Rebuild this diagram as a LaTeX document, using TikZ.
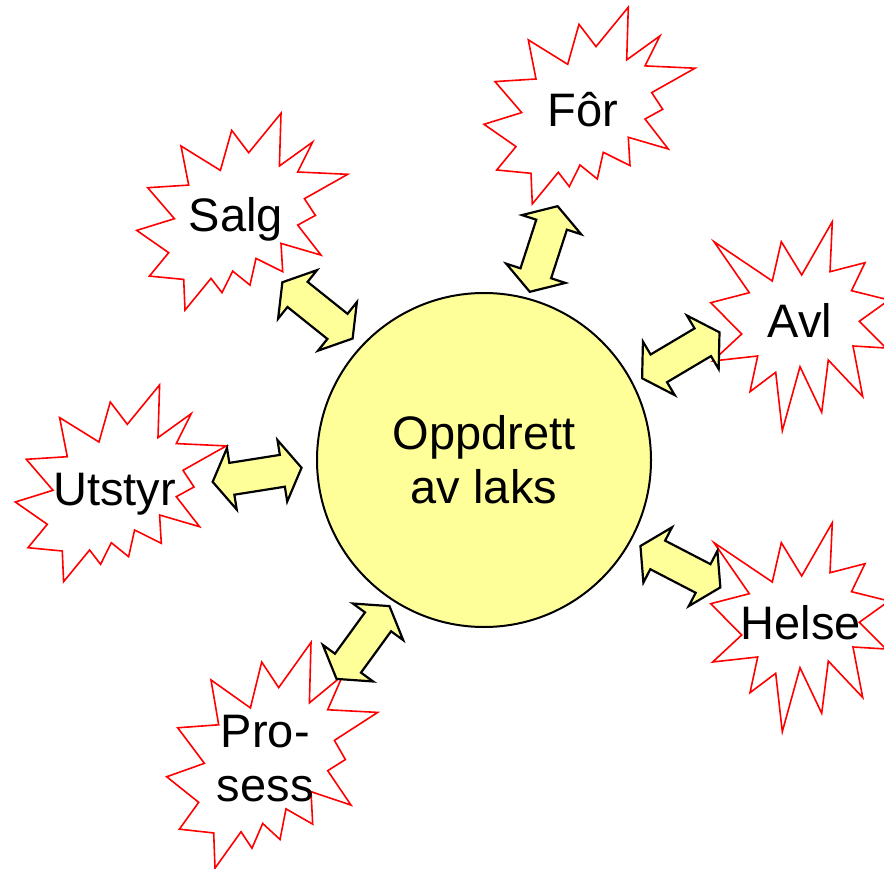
\documentclass[tikz,border=0pt]{standalone}
\usepackage{fontspec}
\setmainfont{Liberation Sans}
\usetikzlibrary{shapes.arrows}
\definecolor{paleyellow}{HTML}{FFFF99}
\definecolor{blastred}{HTML}{FF0000}
\newcommand{\lblfont}{\fontsize{47}{54}\selectfont}
\tikzset{
  blastline/.style={draw=blastred, fill=white, line width=1.6pt, line join=miter},
  % explosion outline, first kind
  blastA/.pic={
    \draw[blastline] (38.8,-98.4) -- (37.2,-45.7) -- (70.5,-69.7) -- (55.5,-39.7)
      -- (105.5,-37.4) -- (62.2,-13) -- (73.2,3.7) -- (55.5,13.4) -- (78.8,43.4)
      -- (38.8,31.7) -- (40.5,60) -- (13.8,46.7) -- (7.8,73.4) -- (-9.5,59.4)
      -- (-20.2,81) -- (-31.2,66.7) -- (-57.2,98.4) -- (-58.5,67.7) -- (-92.8,64.4)
      -- (-73.5,41) -- (-105.5,18.7) -- (-67.8,7) -- (-94.5,-24) -- (-53.5,-26.6)
      -- (-61.2,-65.7) -- (-21.8,-41.3) -- (-10.5,-81.3) -- (6.5,-59) -- cycle;
  },
  % explosion outline, second kind
  blastB/.pic={
    \draw[blastline] (32.3,-104.5) -- (30,-54.5) -- (65,-63.5) -- (51.5,-35.5)
      -- (89,-26.2) -- (59.3,-4.9) -- (86,21.8) -- (53,19.8) -- (62.7,70.3)
      -- (28.3,33.8) -- (21.7,86.1) -- (0,40.5) -- (-17.7,104.5) -- (-24.3,46.1)
      -- (-50,65.5) -- (-42.3,29.8) -- (-87.3,34.8) -- (-58.3,7.8) -- (-89.3,-23.5)
      -- (-50.7,-33.5) -- (-86,-84.5) -- (-27.7,-45.2) -- (-18.7,-84.5) -- (1.7,-51.2)
      -- cycle;
  },
  word/.style={font=\lblfont, inner sep=0pt, align=center},
  hub/.style={circle, draw=black, fill=paleyellow, line width=2pt,
    minimum size=334pt, inner sep=0pt, font=\lblfont, align=center},
  twoway/.style={double arrow, draw=black, fill=paleyellow, line width=2.2pt,
    minimum height=90pt, text height=15pt, text depth=15pt, text width=0pt,
    double arrow head extend=15pt, double arrow tip angle=116,
    inner sep=0pt, line join=miter},
}
\begin{document}
\begin{tikzpicture}[x=1pt, y=-1pt]
  \useasboundingbox (0,0) rectangle (884,869);

  % the six explosions
  \pic at (589.5,105.6) {blastA};
  \pic at (242.2,211.7) {blastA};
  \pic at (120.8,483.3) {blastA};
  \pic[yscale=1.147] at (272.2,755.3) {blastA};
  \pic at (800,326.2) {blastB};
  \pic at (800,627.2) {blastB};

  \node[word, anchor=base] (for) at (583,126.7) {Fôr};
  \node[word, anchor=base] (salg) at (235.8,231.7) {Salg};
  \node[word, anchor=base] (utstyr) at (114.7,505) {Utstyr};
  \node[word] (prosess) at (265.3,758.5) {Pro-\\sess};
  \node[word, anchor=base] (avl) at (800,337.3) {Avl};
  \node[word, anchor=base] (helse) at (800.8,639.3) {Helse};

  \node[hub] (laks) at (484,460) {Oppdrett\\av laks};

  % arrows between the hub and the explosions
  \node[twoway, rotate=72] (laks-for) at (543.7,249) {};
  \node[twoway, rotate=-38.7] (laks-salg) at (317.5,310.4) {};
  \node[twoway, rotate=9] (laks-utstyr) at (257.1,474.8) {};
  \node[twoway, rotate=54] (laks-prosess) at (363,642.5) {};
  \node[twoway, rotate=30.7] (laks-avl) at (680.8,355.3) {};
  \node[twoway, rotate=-27.4] (laks-helse) at (680.4,566.7) {};
\end{tikzpicture}
\end{document}
